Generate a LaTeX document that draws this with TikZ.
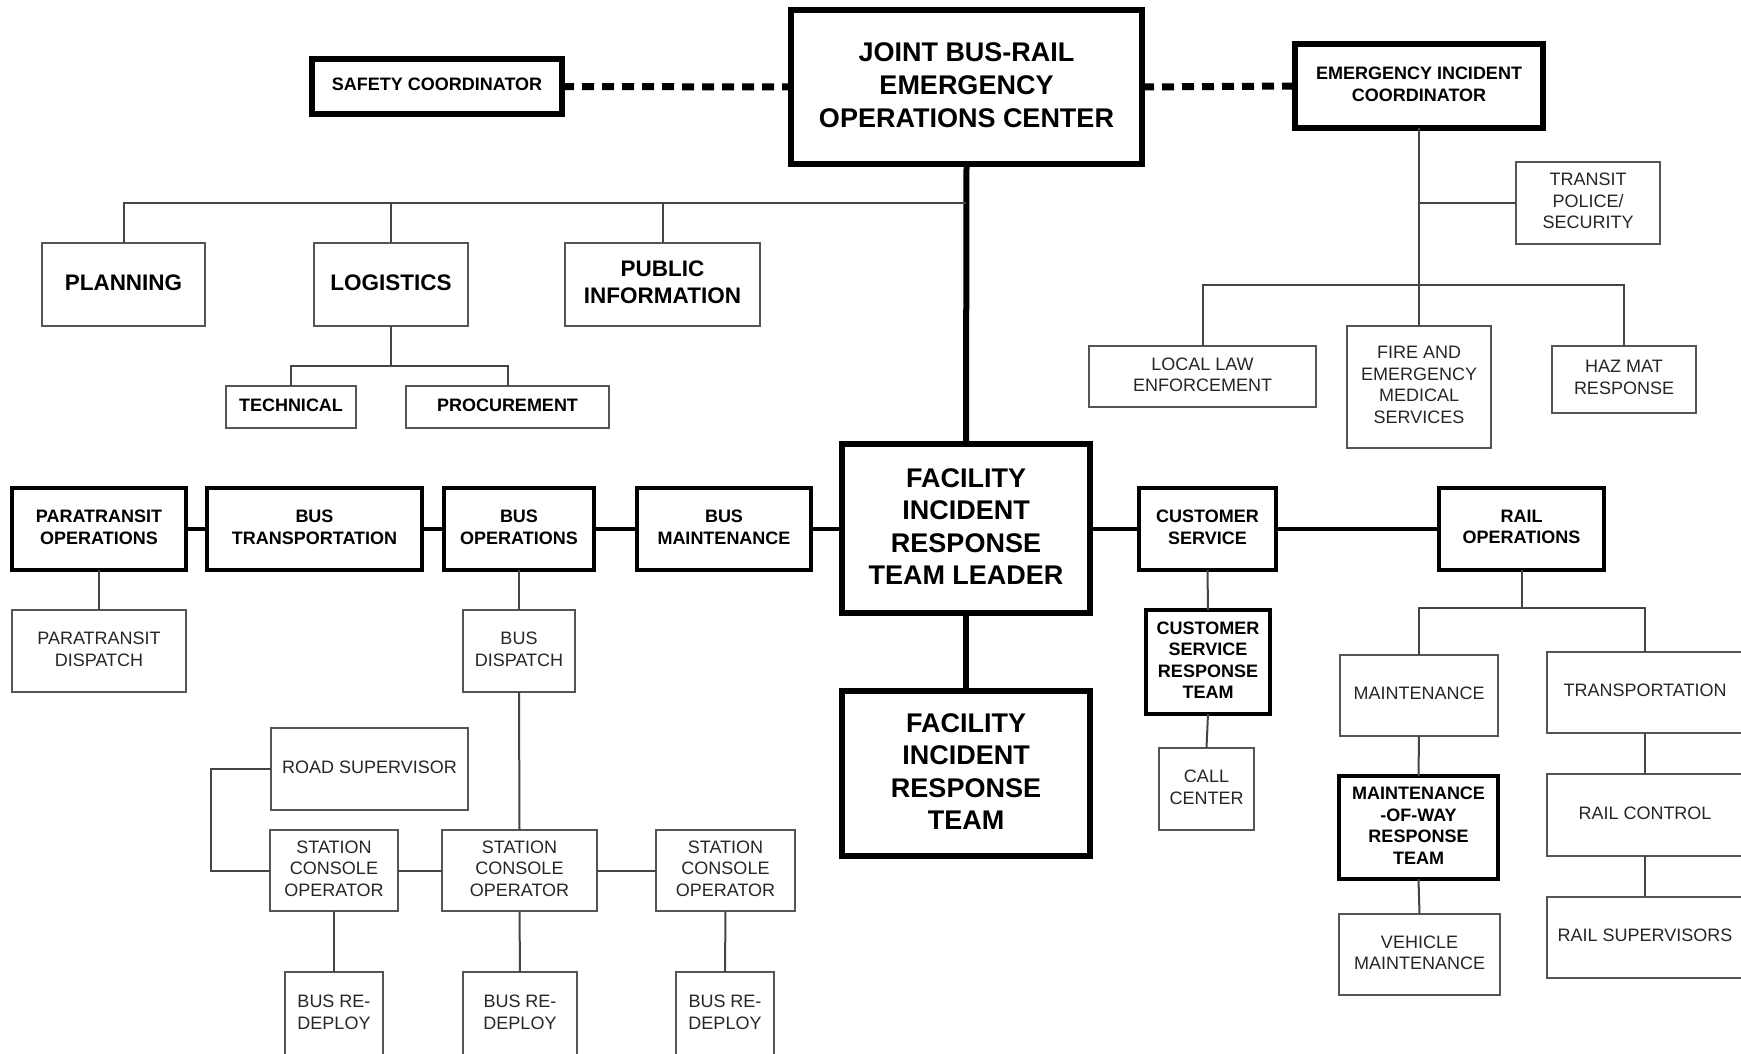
\documentclass[tikz,border=0pt]{standalone}
\usepackage{fontspec}
\setmainfont{Liberation Sans}
\usetikzlibrary{calc}
\definecolor{boxgray}{HTML}{555555}
\definecolor{linegray}{HTML}{444444}
\definecolor{txtgray}{HTML}{262626}

\begin{document}
\begin{tikzpicture}[x=1pt,y=-1pt,
  every node/.style={rectangle, inner sep=0pt, outer sep=0pt, align=center, text depth=4pt},
  wh/.style 2 args={minimum width=#1pt, minimum height=#2pt},
  small/.style={font=\fontsize{18}{21.5}\selectfont},
  smallbold/.style={font=\bfseries\fontsize{18}{21.5}\selectfont},
  midbold/.style={font=\bfseries\fontsize{22.5}{27}\selectfont},
  bigbold/.style={font=\bfseries\fontsize{27}{32.5}\selectfont},
  thinbox/.style={draw=boxgray, line width=2pt, text=txtgray, small},
  staffbox/.style={draw=boxgray, line width=2pt, midbold},
  tabbox/.style={draw=boxgray, line width=2pt, smallbold},
  unitbox/.style={draw=black, line width=4pt, smallbold},
  coordbox/.style={draw=black, line width=5.5pt, smallbold},
  centerbox/.style={draw=black, line width=6pt, bigbold},
  thinline/.style={draw=linegray, line width=2pt},
  unitline/.style={draw=black, line width=3.5pt},
  mainline/.style={draw=black, line width=6pt},
  dotline/.style={draw=black, line width=7pt, dash pattern=on 12pt off 8pt}
]
\useasboundingbox (0,0) rectangle (1741,1053);
\fill[white] (0,0) rectangle (1741,1053);
\clip (0,0) rectangle (1741,1053);

% --- command level ---
\node[centerbox, wh={351}{154}, font=\bfseries\fontsize{27}{33}\selectfont] (joc) at (966.5,87)
  {JOINT BUS-RAIL\\EMERGENCY\\OPERATIONS CENTER};
\node[coordbox, wh={250}{55}] (safety) at (437,86.5) {SAFETY COORDINATOR};
\node[coordbox, wh={248}{84}] (eic) at (1419,86) {EMERGENCY INCIDENT\\COORDINATOR};

% --- staff functions ---
\node[staffbox, wh={163}{83}] (planning) at (123.5,284.5) {PLANNING};
\node[staffbox, wh={154}{83}] (logistics) at (391,284.5) {LOGISTICS};
\node[staffbox, wh={195}{83}] (pubinfo) at (662.5,284.5) {PUBLIC\\INFORMATION};
\node[tabbox, wh={130}{42}] (technical) at (291,407) {TECHNICAL};
\node[tabbox, wh={203}{42}] (procurement) at (507.5,407) {PROCUREMENT};

% --- emergency services ---
\node[thinbox, wh={144}{82}] (transit) at (1588,203) {TRANSIT\\POLICE/\\SECURITY};
\node[thinbox, wh={227}{61}] (locallaw) at (1202.5,376.5) {LOCAL LAW\\ENFORCEMENT};
\node[thinbox, wh={144}{122}] (fire) at (1419,387) {FIRE AND\\EMERGENCY\\MEDICAL\\SERVICES};
\node[thinbox, wh={144}{67}] (hazmat) at (1624,379.5) {HAZ MAT\\RESPONSE};

% --- facility level ---
\node[centerbox, wh={248}{169}] (firtl) at (966,528.5) {FACILITY\\INCIDENT\\RESPONSE\\TEAM LEADER};
\node[centerbox, wh={248}{165}] (firt) at (966,773.5) {FACILITY\\INCIDENT\\RESPONSE\\TEAM};

\node[unitbox, wh={174}{82}] (paraops) at (99,529) {PARATRANSIT\\OPERATIONS};
\node[unitbox, wh={215}{82}] (bustrans) at (314.5,529) {BUS\\TRANSPORTATION};
\node[unitbox, wh={150}{82}] (busops) at (519,529) {BUS\\OPERATIONS};
\node[unitbox, wh={174}{82}] (busmaint) at (724,529) {BUS\\MAINTENANCE};
\node[unitbox, wh={137}{82}] (custserv) at (1207.5,529) {CUSTOMER\\SERVICE};
\node[unitbox, wh={165}{82}] (railops) at (1521.5,529) {RAIL\\OPERATIONS};

% --- bus side ---
\node[thinbox, wh={174}{82}] (paradisp) at (99,651) {PARATRANSIT\\DISPATCH};
\node[thinbox, wh={112}{82}] (busdisp) at (519,651) {BUS\\DISPATCH};
\node[thinbox, wh={197}{82}] (roadsup) at (369.5,769) {ROAD SUPERVISOR};
\node[thinbox, wh={128}{81}] (sco1) at (334,870.5) {STATION\\CONSOLE\\OPERATOR};
\node[thinbox, wh={155}{81}] (sco2) at (519.5,870.5) {STATION\\CONSOLE\\OPERATOR};
\node[thinbox, wh={139}{81}] (sco3) at (725.5,870.5) {STATION\\CONSOLE\\OPERATOR};
\node[thinbox, wh={98}{140}, anchor=north] (rd1) at (334,972) {};
\node[thinbox, wh={114}{140}, anchor=north] (rd2) at (520,972) {};
\node[thinbox, wh={98}{140}, anchor=north] (rd3) at (725,972) {};
\node[small, text=txtgray] (rd1t) at (334,1014) {BUS RE-\\DEPLOY};
\node[small, text=txtgray] (rd2t) at (520,1014) {BUS RE-\\DEPLOY};
\node[small, text=txtgray] (rd3t) at (725,1014) {BUS RE-\\DEPLOY};

% --- customer service and rail side ---
\node[unitbox, wh={124}{104}] (csrt) at (1208,662) {CUSTOMER\\SERVICE\\RESPONSE\\TEAM};
\node[thinbox, wh={95}{82}] (callcenter) at (1206.5,789) {CALL\\CENTER};
\node[thinbox, wh={158}{81}] (maint) at (1419,695.5) {MAINTENANCE};
\node[unitbox, wh={159}{103}] (mow) at (1418.5,827.5) {MAINTENANCE\\-OF-WAY\\RESPONSE\\TEAM};
\node[thinbox, wh={161}{81}] (vehmaint) at (1419.5,954.5) {VEHICLE\\MAINTENANCE};
\node[thinbox, wh={196}{81}] (transp) at (1645,692.5) {TRANSPORTATION};
\node[thinbox, wh={196}{82}] (railcontrol) at (1645,815) {RAIL CONTROL};
\node[thinbox, wh={196}{81}] (railsup) at (1645,937.5) {RAIL SUPERVISORS};

% --- junction points ---
\coordinate (staffbar) at (966,203);
\coordinate (logbar) at (391,366);
\coordinate (eicbar) at (1419,285);
\coordinate (eictap) at (1419,203);
\coordinate (railbar) at (1521.5,608);
\coordinate (loopA) at (211,769);
\coordinate (loopB) at (211,870.5);

% --- connectors ---
\draw[dotline] (safety.east) -- (joc.west);
\draw[dotline] (joc.east) -- (eic.west);
\draw[mainline] (joc.south) -- (firtl.north);
\draw[mainline] (firtl.south) -- (firt.north);

\draw[thinline] (staffbar) -| (planning.north);
\draw[thinline] (staffbar) -| (logistics.north);
\draw[thinline] (staffbar) -| (pubinfo.north);
\draw[thinline] (logistics.south) -- (logbar);
\draw[thinline] (logbar) -| (technical.north);
\draw[thinline] (logbar) -| (procurement.north);

\draw[thinline] (eic.south) -- (eicbar);
\draw[thinline] (eictap) -- (transit.west);
\draw[thinline] (eicbar) -| (locallaw.north);
\draw[thinline] (eicbar) -| (hazmat.north);
\draw[thinline] (eicbar) -- (fire.north);

\draw[unitline] (paraops.east) -- (bustrans.west);
\draw[unitline] (bustrans.east) -- (busops.west);
\draw[unitline] (busops.east) -- (busmaint.west);
\draw[unitline] (busmaint.east) -- (firtl.west |- busmaint.east);
\draw[unitline] (firtl.east |- custserv.west) -- (custserv.west);
\draw[unitline] (custserv.east) -- (railops.west);

\draw[thinline] (paraops.south) -- (paradisp.north);
\draw[thinline] (busops.south) -- (busdisp.north);
\draw[thinline] (busdisp.south) -- (sco2.north);
\draw[thinline] (roadsup.west) -- (loopA) -- (loopB) -- (sco1.west);
\draw[thinline] (sco1.east) -- (sco2.west);
\draw[thinline] (sco2.east) -- (sco3.west);
\draw[thinline] (sco1.south) -- (rd1.north);
\draw[thinline] (sco2.south) -- (rd2.north);
\draw[thinline] (sco3.south) -- (rd3.north);

\draw[thinline] (custserv.south) -- (csrt.north);
\draw[thinline] (csrt.south) -- (callcenter.north);
\draw[thinline] (railops.south) -- (railbar);
\draw[thinline] (railbar) -| (maint.north);
\draw[thinline] (railbar) -| (transp.north);
\draw[thinline] (maint.south) -- (mow.north);
\draw[thinline] (mow.south) -- (vehmaint.north);
\draw[thinline] (transp.south) -- (railcontrol.north);
\draw[thinline] (railcontrol.south) -- (railsup.north);
\end{tikzpicture}
\end{document}
